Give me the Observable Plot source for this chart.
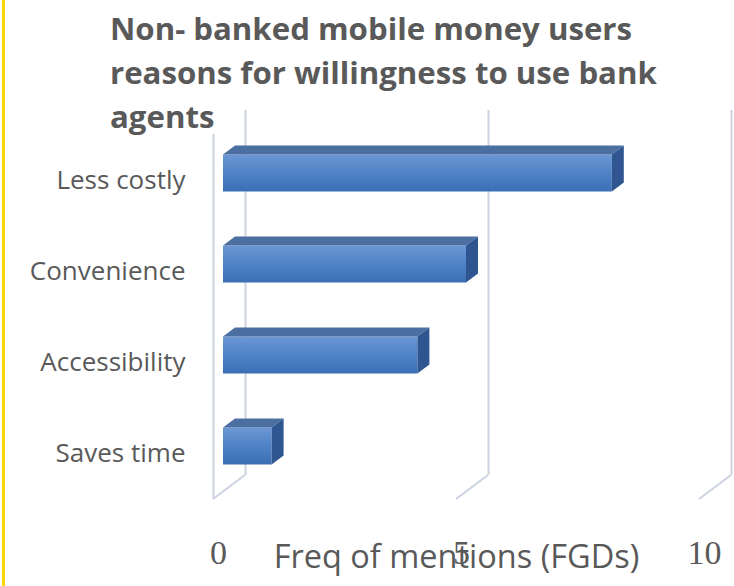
<!DOCTYPE html>
<html><head><meta charset="utf-8">
<script src="https://cdn.jsdelivr.net/npm/d3@7"></script>
<script src="https://cdn.jsdelivr.net/npm/@observablehq/plot@0.6"></script>
<style>
body{margin:0;background:#fff;}
#wrap{position:relative;width:734px;height:586px;overflow:hidden;background:#fff;}
#title{position:absolute;left:110px;top:6px;font-family:"Open Sans";font-weight:700;font-size:31.2px;line-height:44px;color:#595959;white-space:nowrap;z-index:2;}
#edge{position:absolute;left:2px;top:0;width:3px;height:586px;background:#FFD700;z-index:3;}
#chart{position:absolute;left:0;top:0;}
</style></head>
<body>
<svg width="0" height="0" style="position:absolute">
  <defs>
    <linearGradient id="frontGrad" x1="0" y1="0" x2="0" y2="1">
      <stop offset="0" stop-color="#6C97D3"/>
      <stop offset="0.5" stop-color="#4F82C7"/>
      <stop offset="1" stop-color="#3B6FB5"/>
    </linearGradient>
  </defs>
</svg>
<div id="wrap">
  <div id="chart"></div>
  <div id="title">Non- banked mobile money users<br>reasons for willingness to use bank<br>agents</div>
  <div id="edge"></div>
</div>
<script>
const categories = ["Less costly", "Convenience", "Accessibility", "Saves time"];
const values = [8, 5, 4, 1];
const xTicks = [0, 5, 10];
const xTitle = "Freq of mentions (FGDs)";

const data = categories.map((c, i) => ({category: c, value: values[i]}));

const wallDX = 32, wallDY = -24;   // depth of the 3D box (front wall -> back wall)
const barDX = 10, barDY = -7.5;    // bar front face offset inside the box
const barDepthX = 12, barDepthY = -9;
const gridColor = "#CCD3E0";
const inset = 27;

function floorLines(index, scales, values, dim) {
  const x = scales.x;
  const yb = dim.height - dim.marginBottom;
  const g = d3.create("svg:g").attr("stroke", gridColor).attr("stroke-width", 2).attr("fill", "none");
  for (const t of xTicks) {
    g.append("line").attr("x1", x(t)).attr("y1", yb).attr("x2", x(t) + wallDX).attr("y2", yb + wallDY);
  }
  return g.node();
}

function barSides(index, scales, vals, dim) {
  const x = scales.x, y = scales.y;
  const bw = y.bandwidth();
  const g = d3.create("svg:g");
  data.forEach(d => {
    const x0 = x(0) + barDX, x1 = x(d.value) + barDX;
    const top = y(d.category) + inset + barDY;
    const bot = y(d.category) + bw - inset + barDY;
    g.append("polygon")
      .attr("points", [[x0, top], [x1, top], [x1 + barDepthX, top + barDepthY], [x0 + barDepthX, top + barDepthY]].join(" "))
      .attr("fill", "#4C6FA2");
    g.append("polygon")
      .attr("points", [[x1, top], [x1 + barDepthX, top + barDepthY], [x1 + barDepthX, bot + barDepthY], [x1, bot]].join(" "))
      .attr("fill", "#2F5690");
  });
  return g.node();
}

const plot = Plot.plot({
  width: 734,
  height: 586,
  marginLeft: 213,
  marginRight: 35,
  marginTop: 134,
  marginBottom: 87,
  style: {fontFamily: "Open Sans", fontSize: "26px", color: "#595959", background: "transparent"},
  x: {domain: [0, 10], axis: null},
  y: {domain: categories, padding: 0, tickSize: 0, tickPadding: 28, label: null},
  marks: [
    Plot.ruleX(xTicks, {dx: wallDX, dy: wallDY, stroke: gridColor, strokeWidth: 2}),
    floorLines,
    Plot.ruleX([0], {stroke: gridColor, strokeWidth: 2}),
    Plot.barX(data, {y: "category", x: "value", dx: barDX, dy: barDY, insetTop: inset, insetBottom: inset, fill: "url(#frontGrad)"}),
    barSides,
    Plot.text(xTicks, {x: d => d, text: d => String(d), frameAnchor: "bottom", dx: 5, dy: 64, fontFamily: "Liberation Serif", fontSize: 34, fill: "#595959"}),
    Plot.text([xTitle], {frameAnchor: "bottom", text: d => d, dy: 68, fontSize: 32.5, fill: "#595959"})
  ]
});
document.getElementById("chart").appendChild(plot);
</script>
</body></html>
